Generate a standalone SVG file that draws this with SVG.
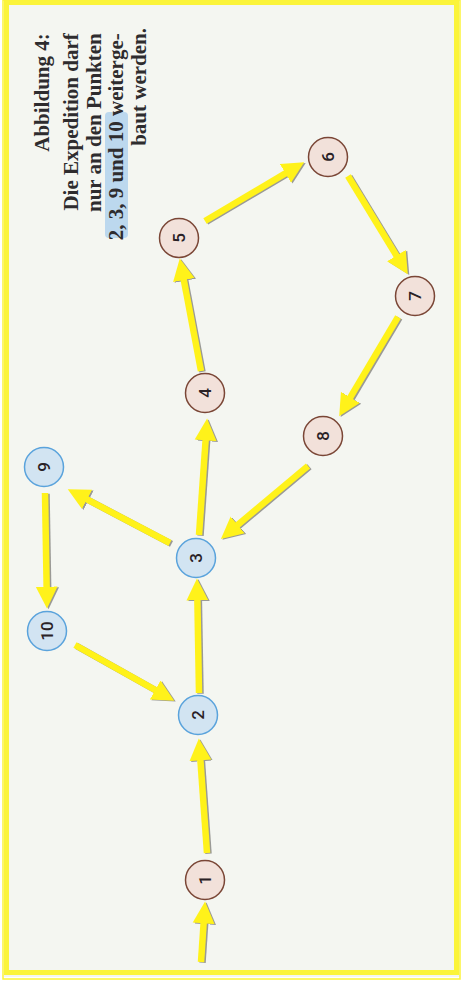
<svg xmlns="http://www.w3.org/2000/svg" width="463" height="989" viewBox="0 0 463 989">
<style>
.bg{fill:#f4f6f1}
.frame{fill:none;stroke:#fbf43a}
.arr{fill:none;stroke:#fff21a;stroke-width:6.5}
.sh{fill:none;stroke:#9a9a96;stroke-width:6.5}
.nb circle{fill:#f2e1da;stroke:#7a4636;stroke-width:1.5}
.nl circle{fill:#d2e4f2;stroke:#5aa3dc;stroke-width:1.5}
.lbl{font-family:Roboto,"Liberation Sans",Arial,sans-serif;font-weight:500;font-size:17px;fill:#2a2226;text-anchor:middle}
.cap{font-family:"Liberation Serif","Times New Roman",serif;font-weight:bold;font-size:21px;fill:#2e2c2e;text-anchor:end}
</style>
<defs>
<marker id="hy" markerUnits="userSpaceOnUse" markerWidth="24" markerHeight="24" viewBox="0 -11 22 22" refX="4" refY="0" orient="auto"><path d="M0,-10 L20,0 L0,10 z" fill="#fff21a"/></marker>
<marker id="hs" markerUnits="userSpaceOnUse" markerWidth="24" markerHeight="24" viewBox="0 -11 22 22" refX="4" refY="0" orient="auto"><path d="M0,-10 L20,0 L0,10 z" fill="#9a9a96"/></marker>
<g id="arrowpaths">
<path id="a0" d="M201,962 L203.9,919"/>
<path id="a1" d="M207,853 L200.1,756"/>
<path id="a2" d="M199,693 L197.3,596"/>
<path id="a3" d="M199,535 L205.9,436"/>
<path id="a4" d="M201,371 L183,275.7"/>
<path id="a5" d="M205,221 L289.2,171.1"/>
<path id="a6" d="M348,176 L398.7,259.3"/>
<path id="a7" d="M398,317 L348.1,401.2"/>
<path id="a8" d="M308,466 L234.3,527.7"/>
<path id="a9" d="M170,543 L83.2,497.4"/>
<path id="a10" d="M45,493 L46.7,591"/>
<path id="a11" d="M75,645 L159,692.2"/>
</g>
</defs>
<rect x="0" y="0" width="463" height="989" fill="#ffffff"/>
<rect class="bg" x="4" y="1" width="456" height="976"/>
<rect class="frame" x="6.5" y="2.5" width="450" height="970" stroke-width="5"/>
<rect class="frame" x="3" y="0" width="457" height="979" stroke-width="1.5"/>
<rect x="105" y="112" width="23" height="126" rx="4" fill="#bcd8ee"/>
<g id="caption">
<text class="cap" transform="rotate(-90)">
<tspan x="-28" y="49">Abbildung 4:</tspan>
<tspan x="-28" y="78">Die Expedition darf</tspan>
<tspan x="-28" y="101">nur an den Punkten</tspan>
<tspan x="-28" y="123">2, 3, 9 und 10 weiterge-</tspan>
<tspan x="-28" y="146">baut werden.</tspan>
</text>
</g>
<g id="connectors">
<g transform="translate(1.5,0.8)" class="sh" marker-end="url(#hs)">
<use href="#a0"/><use href="#a1"/><use href="#a2"/><use href="#a3"/><use href="#a4"/><use href="#a5"/><use href="#a6"/><use href="#a7"/><use href="#a8"/><use href="#a9"/><use href="#a10"/><use href="#a11"/>
</g>
<g class="arr" marker-end="url(#hy)">
<use href="#a0"/><use href="#a1"/><use href="#a2"/><use href="#a3"/><use href="#a4"/><use href="#a5"/><use href="#a6"/><use href="#a7"/><use href="#a8"/><use href="#a9"/><use href="#a10"/><use href="#a11"/>
</g>
</g>
<g id="n1" class="nb"><circle cx="205" cy="880" r="19.5"/><text class="lbl" transform="translate(205,880) rotate(-90)" dy="6">1</text></g>
<g id="n2" class="nl"><circle cx="198" cy="715" r="19.5"/><text class="lbl" transform="translate(198,715) rotate(-90)" dy="6">2</text></g>
<g id="n3" class="nl"><circle cx="196" cy="558" r="19.5"/><text class="lbl" transform="translate(196,558) rotate(-90)" dy="6">3</text></g>
<g id="n4" class="nb"><circle cx="205" cy="393" r="19.5"/><text class="lbl" transform="translate(205,393) rotate(-90)" dy="6">4</text></g>
<g id="n5" class="nb"><circle cx="179" cy="238" r="19.5"/><text class="lbl" transform="translate(179,238) rotate(-90)" dy="6">5</text></g>
<g id="n6" class="nb"><circle cx="328" cy="157" r="19.5"/><text class="lbl" transform="translate(328,157) rotate(-90)" dy="6">6</text></g>
<g id="n7" class="nb"><circle cx="415" cy="296" r="19.5"/><text class="lbl" transform="translate(415,296) rotate(-90)" dy="6">7</text></g>
<g id="n8" class="nb"><circle cx="323" cy="436" r="19.5"/><text class="lbl" transform="translate(323,436) rotate(-90)" dy="6">8</text></g>
<g id="n9" class="nl"><circle cx="44" cy="467" r="19.5"/><text class="lbl" transform="translate(44,467) rotate(-90)" dy="6">9</text></g>
<g id="n10" class="nl"><circle cx="47" cy="631" r="19.5"/><text class="lbl" transform="translate(47,631) rotate(-90)" dy="6">10</text></g>
</svg>
